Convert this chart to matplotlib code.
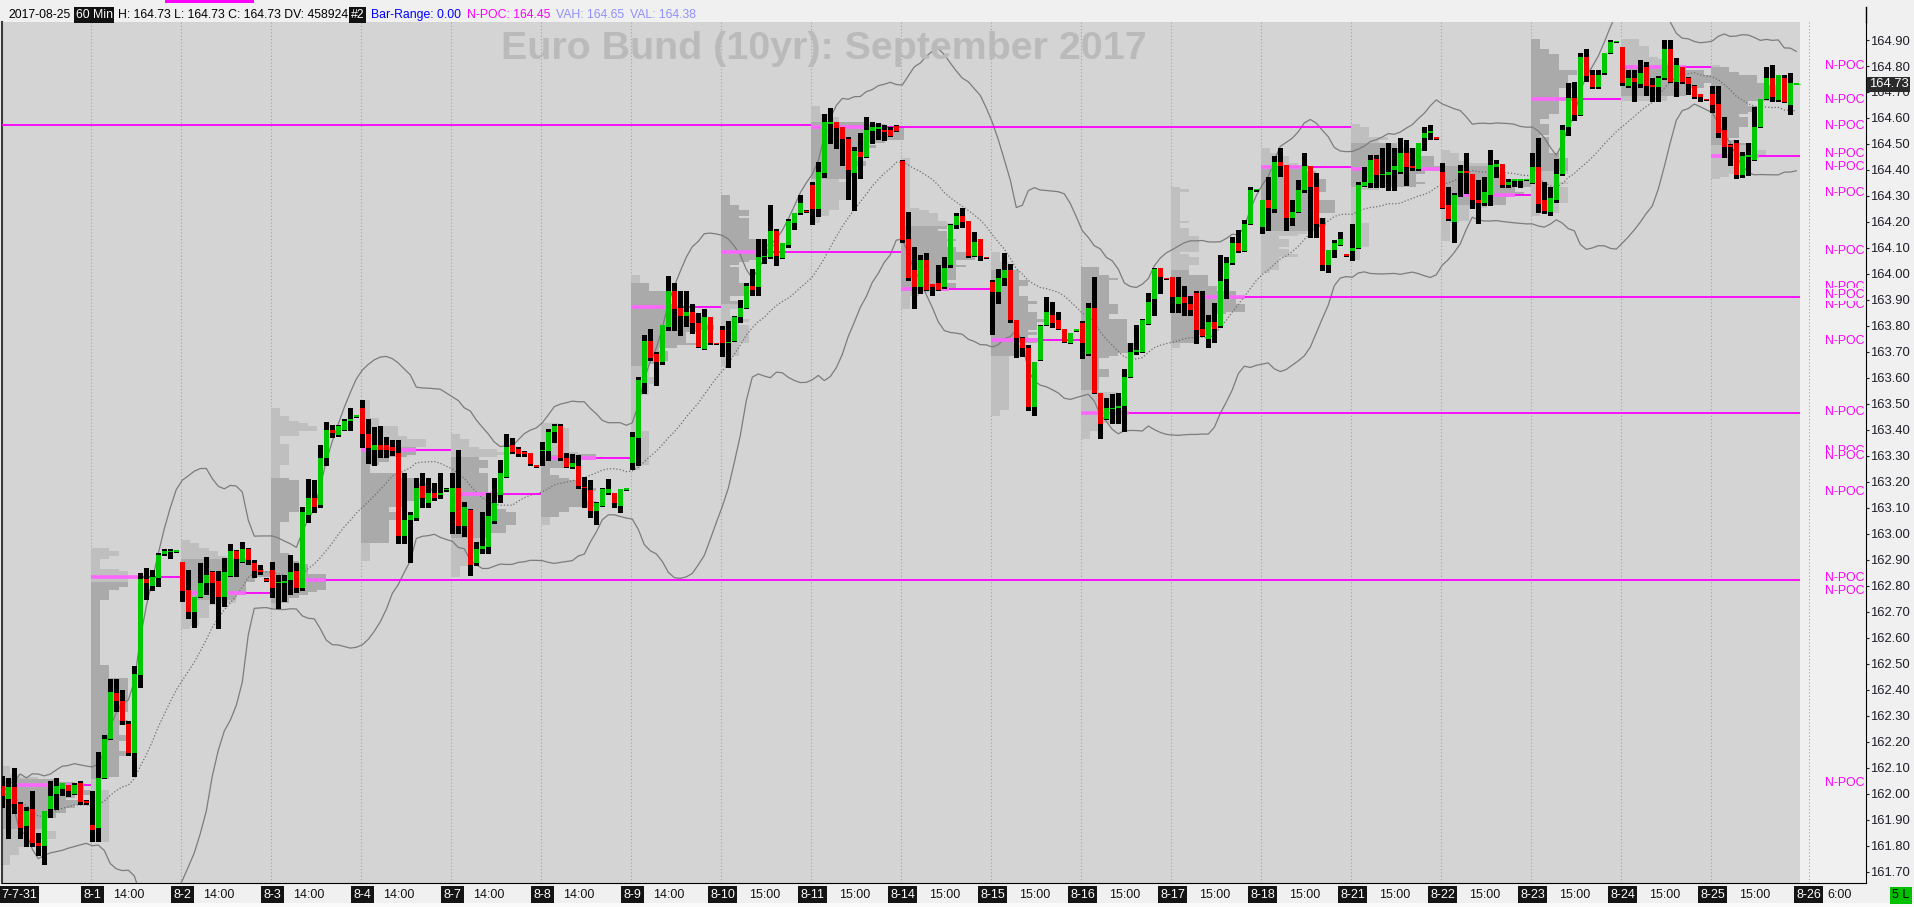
import numpy as np
import pandas as pd
import matplotlib
matplotlib.use("Agg")
import matplotlib.pyplot as plt
import matplotlib.transforms as mtransforms
from matplotlib.patches import Rectangle
from matplotlib.lines import Line2D

plt.rcParams['font.family'] = ['Liberation Sans', 'DejaVu Sans']

# ==============================================================================
# DATA  (60 min bars, 15 bars per session)
# ==============================================================================
day_labels = ['7-7-31', '8-1', '8-2', '8-3', '8-4', '8-7', '8-8', '8-9', '8-10',
              '8-11', '8-14', '8-15', '8-16', '8-17', '8-18', '8-21', '8-22',
              '8-23', '8-24', '8-25', '8-26']
time_labels = ['', '14:00', '14:00', '14:00', '14:00', '14:00', '14:00', '14:00',
               '15:00', '15:00', '15:00', '15:00', '15:00', '15:00', '15:00',
               '15:00', '15:00', '15:00', '15:00', '15:00', '6:00']

bar_open = [
    # 7-31
    162.03, 161.98, 162.025, 161.96, 161.875, 161.94, 161.81, 161.80, 161.94, 162.00, 162.02, 162.035, 162.00, 162.04, 161.97,
    # 8-1
    161.88, 161.87, 162.06, 162.21, 162.387, 162.355, 162.27, 162.155, 162.455, 162.825, 162.80, 162.83, 162.923, 162.93, 162.933,
    # 8-2
    162.893, 162.784, 162.70, 162.758, 162.81, 162.855, 162.82, 162.758, 162.838, 162.935, 162.89, 162.94, 162.889, 162.862, 162.825,
    # 8-3
    162.86, 162.81, 162.812, 162.822, 162.858, 162.79, 163.073, 163.137, 163.11, 163.29, 163.40, 163.38, 163.40, 163.436, 163.454,
    # 8-4
    163.483, 163.384, 163.323, 163.342, 163.342, 163.335, 163.312, 162.99, 163.053, 163.06, 163.184, 163.12, 163.156, 163.15, 163.17,
    # 8-7
    163.085, 163.175, 163.03, 163.09, 162.887, 162.94, 162.95, 163.05, 163.15, 163.22, 163.34, 163.325, 163.313, 163.312, 163.262,
    # 8-8
    163.318, 163.32, 163.39, 163.415, 163.29, 163.258, 163.26, 163.18, 163.17, 163.089, 163.107, 163.158, 163.158, 163.107, 163.171,
    # 8-9
    163.271, 163.367, 163.58, 163.743, 163.69, 163.662, 163.797, 163.935, 163.87, 163.838, 163.855, 163.812, 163.713, 163.833, 163.733,
    # 8-10
    163.784, 163.735, 163.74, 163.833, 163.87, 163.953, 163.95, 164.066, 164.066, 164.165, 164.063, 164.11, 164.197, 164.233, 164.242,
    # 8-11
    164.342, 164.248, 164.387, 164.58, 164.586, 164.566, 164.521, 164.39, 164.47, 164.451, 164.55, 164.56, 164.55, 164.555, 164.57,
    # 8-14
    164.434, 164.133, 164.015, 163.95, 164.053, 163.96, 163.964, 163.95, 164.034, 164.188, 164.223, 164.204, 164.069, 164.133, 164.064,
    # 8-15
    163.97, 163.932, 163.983, 164.015, 163.823, 163.752, 163.714, 163.489, 163.668, 163.803, 163.842, 163.823, 163.79, 163.733, 163.784,
    # 8-16
    163.812, 163.692, 163.87, 163.54, 163.44, 163.482, 163.483, 163.49, 163.605, 163.70, 163.70, 163.807, 163.902, 164.021, 163.983,
    # 8-17
    163.99, 163.884, 163.912, 163.884, 163.925, 163.787, 163.748, 163.816, 163.80, 163.98, 164.043, 164.118, 164.09, 164.194, 164.323,
    # 8-18
    164.182, 164.284, 164.25, 164.432, 164.42, 164.214, 164.24, 164.323, 164.415, 164.333, 164.192, 164.034, 164.092, 164.11, 164.073,
    # 8-21
    164.09, 164.101, 164.339, 164.351, 164.441, 164.38, 164.381, 164.40, 164.393, 164.464, 164.413, 164.402, 164.522, 164.541, 164.523,
    # 8-22
    164.393, 164.265, 164.201, 164.39, 164.395, 164.385, 164.285, 164.272, 164.304, 164.413, 164.423, 164.342, 164.36, 164.361, 164.362,
    # 8-23
    164.351, 164.413, 164.284, 164.24, 164.284, 164.384, 164.564, 164.676, 164.612, 164.836, 164.765, 164.72, 164.772, 164.849, 164.894,
    # 8-24
    164.872, 164.723, 164.753, 164.73, 164.797, 164.725, 164.72, 164.753, 164.864, 164.74, 164.795, 164.753, 164.724, 164.692, 164.672,
    # 8-25
    164.692, 164.654, 164.554, 164.493, 164.502, 164.381, 164.454, 164.438, 164.566, 164.672, 164.753, 164.669, 164.753, 164.65, 164.73,
]

bar_high = [
    162.07, 162.06, 162.10, 161.97, 161.95, 162.01, 161.85, 161.935, 162.05, 162.06, 162.04, 162.035, 162.04, 162.05, 161.975,
    162.01, 162.16, 162.226, 162.44, 162.44, 162.40, 162.28, 162.49, 162.85, 162.867, 162.86, 162.925, 162.94, 162.94, 162.935,
    162.893, 162.86, 162.758, 162.886, 162.91, 162.858, 162.858, 162.906, 162.96, 162.938, 162.97, 162.944, 162.90, 162.88, 162.83,
    162.893, 162.84, 162.84, 162.92, 162.889, 163.105, 163.21, 163.207, 163.342, 163.432, 163.42, 163.418, 163.44, 163.483, 163.456,
    163.515, 163.441, 163.412, 163.415, 163.374, 163.361, 163.361, 163.233, 163.085, 163.214, 163.233, 163.214, 163.194, 163.233, 163.175,
    163.235, 163.322, 163.124, 163.095, 162.97, 163.085, 163.158, 163.213, 163.284, 163.386, 163.367, 163.335, 163.32, 163.312, 163.262,
    163.355, 163.402, 163.423, 163.423, 163.31, 163.307, 163.303, 163.22, 163.207, 163.124, 163.175, 163.21, 163.158, 163.171, 163.175,
    163.39, 163.605, 163.765, 163.79, 163.70, 163.803, 163.992, 163.966, 163.935, 163.935, 163.884, 163.848, 163.864, 163.833, 163.734,
    163.80, 163.82, 163.838, 163.899, 163.966, 164.02, 164.133, 164.133, 164.265, 164.171, 164.118, 164.21, 164.233, 164.303, 164.245,
    164.355, 164.432, 164.615, 164.64, 164.586, 164.566, 164.525, 164.49, 164.541, 164.605, 164.586, 164.58, 164.573, 164.566, 164.573,
    164.44, 164.24, 164.105, 164.072, 164.08, 163.963, 164.034, 164.066, 164.194, 164.233, 164.252, 164.204, 164.162, 164.133, 164.064,
    163.975, 164.018, 164.08, 164.04, 163.823, 163.758, 163.726, 163.662, 163.803, 163.912, 163.893, 163.855, 163.79, 163.771, 163.785,
    163.82, 163.887, 163.99, 163.54, 163.521, 163.537, 163.54, 163.633, 163.733, 163.803, 163.826, 163.925, 164.021, 164.021, 163.985,
    163.99, 163.99, 163.953, 163.915, 163.935, 163.935, 163.842, 163.887, 164.072, 164.066, 164.143, 164.17, 164.207, 164.333, 164.326,
    164.284, 164.374, 164.454, 164.483, 164.42, 164.284, 164.361, 164.466, 164.415, 164.39, 164.214, 164.092, 164.13, 164.162, 164.075,
    164.192, 164.352, 164.413, 164.458, 164.458, 164.483, 164.502, 164.483, 164.522, 164.515, 164.483, 164.502, 164.564, 164.573, 164.525,
    164.425, 164.336, 164.313, 164.42, 164.464, 164.385, 164.36, 164.374, 164.477, 164.438, 164.423, 164.364, 164.364, 164.364, 164.365,
    164.466, 164.522, 164.355, 164.336, 164.441, 164.573, 164.736, 164.74, 164.849, 164.864, 164.785, 164.785, 164.849, 164.90, 164.896,
    164.872, 164.785, 164.785, 164.823, 164.817, 164.753, 164.76, 164.90, 164.90, 164.83, 164.795, 164.757, 164.727, 164.692, 164.673,
    164.723, 164.723, 164.605, 164.50, 164.515, 164.47, 164.502, 164.641, 164.673, 164.795, 164.804, 164.765, 164.765, 164.772, 164.73,
]

bar_low = [
    161.95, 161.83, 161.925, 161.83, 161.80, 161.80, 161.765, 161.73, 161.91, 161.94, 161.995, 161.99, 162.00, 161.96, 161.96,
    161.82, 161.82, 162.06, 162.21, 162.32, 162.27, 162.15, 162.07, 162.41, 162.75, 162.785, 162.80, 162.92, 162.906, 162.93,
    162.74, 162.675, 162.643, 162.758, 162.77, 162.735, 162.636, 162.722, 162.836, 162.836, 162.89, 162.884, 162.835, 162.845, 162.82,
    162.758, 162.714, 162.74, 162.77, 162.778, 162.785, 163.047, 163.085, 163.105, 163.265, 163.374, 163.375, 163.40, 163.40, 163.45,
    163.335, 163.274, 163.265, 163.294, 163.294, 163.303, 162.964, 162.964, 162.893, 163.053, 163.105, 163.105, 163.13, 163.137, 163.165,
    163.002, 163.002, 162.99, 162.84, 162.88, 162.925, 162.925, 163.04, 163.124, 163.22, 163.31, 163.30, 163.30, 163.265, 163.258,
    163.264, 163.284, 163.355, 163.284, 163.258, 163.255, 163.175, 163.104, 163.066, 163.038, 163.107, 163.155, 163.104, 163.085, 163.17,
    163.25, 163.265, 163.54, 163.67, 163.572, 163.655, 163.784, 163.784, 163.765, 163.80, 163.774, 163.72, 163.713, 163.73, 163.73,
    163.684, 163.643, 163.74, 163.816, 163.87, 163.918, 163.918, 164.043, 164.06, 164.035, 164.06, 164.105, 164.171, 164.23, 164.24,
    164.192, 164.223, 164.374, 164.502, 164.483, 164.42, 164.29, 164.246, 164.37, 164.451, 164.505, 164.52, 164.515, 164.53, 164.549,
    164.124, 163.977, 163.867, 163.925, 163.938, 163.918, 163.938, 163.944, 164.028, 164.175, 164.182, 164.066, 164.069, 164.053, 164.06,
    163.77, 163.887, 163.957, 163.816, 163.682, 163.684, 163.476, 163.457, 163.668, 163.803, 163.797, 163.79, 163.739, 163.733, 163.782,
    163.675, 163.688, 163.54, 163.367, 163.44, 163.425, 163.425, 163.396, 163.605, 163.692, 163.70, 163.807, 163.842, 163.925, 163.98,
    163.855, 163.855, 163.842, 163.842, 163.736, 163.761, 163.72, 163.739, 163.797, 163.906, 164.04, 164.085, 164.09, 164.194, 164.32,
    164.156, 164.17, 164.24, 164.377, 164.169, 164.188, 164.24, 164.316, 164.143, 164.143, 164.015, 164.008, 164.066, 164.11, 164.07,
    164.053, 164.101, 164.339, 164.336, 164.336, 164.336, 164.323, 164.323, 164.387, 164.342, 164.40, 164.40, 164.477, 164.518, 164.52,
    164.252, 164.207, 164.124, 164.30, 164.31, 164.252, 164.195, 164.265, 164.265, 164.374, 164.336, 164.336, 164.339, 164.336, 164.36,
    164.349, 164.24, 164.233, 164.227, 164.278, 164.381, 164.535, 164.592, 164.612, 164.744, 164.714, 164.714, 164.77, 164.849, 164.893,
    164.727, 164.72, 164.667, 164.72, 164.688, 164.667, 164.667, 164.749, 164.74, 164.685, 164.736, 164.692, 164.676, 164.667, 164.67,
    164.624, 164.526, 164.451, 164.419, 164.368, 164.374, 164.381, 164.438, 164.566, 164.672, 164.667, 164.667, 164.663, 164.615, 164.73,
]

bar_close = [
    161.99, 162.025, 161.96, 161.87, 161.935, 161.81, 161.80, 161.935, 161.99, 162.03, 162.04, 162.01, 162.035, 161.97, 161.965,
    161.86, 162.06, 162.21, 162.39, 162.355, 162.28, 162.155, 162.46, 162.826, 162.81, 162.835, 162.92, 162.935, 162.933, 162.933,
    162.781, 162.70, 162.758, 162.812, 162.84, 162.81, 162.758, 162.855, 162.934, 162.902, 162.942, 162.90, 162.858, 162.852, 162.82,
    162.79, 162.815, 162.817, 162.855, 162.79, 163.085, 163.137, 163.105, 163.293, 163.40, 163.387, 163.415, 163.435, 163.44, 163.454,
    163.384, 163.329, 163.342, 163.323, 163.323, 163.32, 162.99, 163.053, 163.073, 163.175, 163.137, 163.156, 163.137, 163.155, 163.172,
    163.175, 163.03, 163.104, 162.88, 162.94, 162.955, 163.07, 163.117, 163.233, 163.335, 163.316, 163.307, 163.31, 163.267, 163.259,
    163.322, 163.393, 163.415, 163.29, 163.258, 163.273, 163.184, 163.176, 163.089, 163.12, 163.171, 163.171, 163.117, 163.171, 163.173,
    163.374, 163.592, 163.743, 163.678, 163.66, 163.803, 163.935, 163.864, 163.838, 163.855, 163.81, 163.72, 163.833, 163.733, 163.731,
    163.733, 163.738, 163.835, 163.87, 163.953, 163.938, 164.066, 164.067, 164.165, 164.07, 164.118, 164.203, 164.233, 164.274, 164.24,
    164.248, 164.393, 164.586, 164.582, 164.56, 164.518, 164.40, 164.474, 164.451, 164.554, 164.566, 164.561, 164.549, 164.53, 164.55,
    164.13, 163.983, 163.95, 164.053, 163.938, 163.95, 163.94, 164.021, 164.188, 164.223, 164.201, 164.069, 164.123, 164.069, 164.062,
    163.93, 163.983, 164.015, 163.823, 163.752, 163.714, 163.489, 163.662, 163.80, 163.855, 163.812, 163.79, 163.739, 163.771, 163.784,
    163.733, 163.87, 163.54, 163.422, 163.483, 163.483, 163.492, 163.605, 163.70, 163.708, 163.823, 163.893, 164.018, 163.99, 163.981,
    163.912, 163.912, 163.887, 163.861, 163.784, 163.761, 163.816, 163.79, 163.973, 164.043, 164.118, 164.09, 164.194, 164.323, 164.325,
    164.284, 164.252, 164.432, 164.415, 164.214, 164.24, 164.323, 164.415, 164.333, 164.192, 164.034, 164.092, 164.12, 164.133, 164.072,
    164.10, 164.342, 164.355, 164.438, 164.38, 164.385, 164.394, 164.415, 164.464, 164.413, 164.41, 164.502, 164.541, 164.55, 164.521,
    164.252, 164.21, 164.304, 164.394, 164.39, 164.285, 164.272, 164.316, 164.419, 164.423, 164.342, 164.355, 164.361, 164.362, 164.363,
    164.413, 164.27, 164.243, 164.291, 164.385, 164.554, 164.676, 164.612, 164.836, 164.762, 164.72, 164.765, 164.849, 164.894, 164.895,
    164.733, 164.753, 164.74, 164.774, 164.723, 164.721, 164.753, 164.864, 164.74, 164.804, 164.74, 164.731, 164.682, 164.682, 164.671,
    164.65, 164.541, 164.49, 164.492, 164.381, 164.454, 164.455, 164.564, 164.673, 164.753, 164.682, 164.765, 164.663, 164.733, 164.73,
]

# point of control of each session and the session separator where its line stops (20 = still naked)
poc_price = [162.034, 162.833, 162.773, 162.822, 163.321, 163.152, 163.291, 163.872, 164.083, 164.566,
             163.942, 163.746, 163.464, 163.912, 164.41, 164.405, 164.304, 164.673, 164.795, 164.454]
poc_end = [1, 2, 3, 20, 5, 6, 7, 8, 10, 15, 11, 12, 20, 20, 15, 16, 17, 18, 19, 20]
prior_poc = 164.574

npoc_labels = [164.80, 164.67, 164.57, 164.46, 164.41, 164.31, 164.09, 163.95, 163.88, 163.92,
               163.74, 163.47, 163.32, 163.30, 163.16, 162.83, 162.78, 162.04]
vah_val = [164.65, 164.38]
day_volume = 458924

# ==============================================================================
# LAYOUT HELPERS (pixel geometry of the 1914x907 screen)
# ==============================================================================
W, H = 1914, 907
BPD = 15
N_DAYS = 20

def fx(x):
    return x / W

def fy(y):
    return 1 - y / H

def price_y(p):
    return 40 + (164.90 - p) * 259.9

o = np.array(bar_open)
c = np.array(bar_close)
hi = np.maximum(np.array(bar_high), np.maximum(o, c))
lo = np.minimum(np.array(bar_low), np.minimum(o, c))
k = np.arange(len(c))

sep = [d * BPD - 0.27 for d in range(N_DAYS)] + [301.07]
data_end = 299.62

fig = plt.figure(figsize=(W / 100, H / 100), dpi=100, facecolor='#f0f0f0')
ax = fig.add_axes([fx(2), 24 / H, 1864 / W, 861 / H])
ax.set_facecolor('#f0f0f0')
ax.set_xlim(-0.05, 310.62)
ax.set_ylim(161.6565, 164.9693)

# chart background and session separators
ax.axvspan(-0.05, data_end, color='#d4d4d4', lw=0, zorder=0)
for s in sep:
    ax.axvline(s, color='#a2a2a2', lw=0.8, ls=(0, (1, 2)), zorder=1)

# ---- volume (TPO) profile per session --------------------------------------
PROF = 1.55
poc_width = []
for d in range(N_DAYS):
    sl = slice(d * BPD, d * BPD + BPD)
    grid = np.round(np.arange(np.round(lo[sl].min(), 2), np.round(hi[sl].max(), 2) + 0.005, 0.01), 2)
    cnt = ((lo[sl][None, :] <= grid[:, None] + 1e-9) & (hi[sl][None, :] >= grid[:, None] - 1e-9)).sum(1)
    i_poc = int(np.argmax(cnt))
    a, b = i_poc, i_poc
    acc, total = cnt[i_poc], cnt.sum()
    while acc < 0.7 * total:
        up = cnt[b + 1] if b + 1 < len(cnt) else -1
        dn = cnt[a - 1] if a - 1 >= 0 else -1
        if up >= dn:
            b += 1
            acc += up
        else:
            a -= 1
            acc += dn
    in_va = (np.arange(len(cnt)) >= a) & (np.arange(len(cnt)) <= b)
    cols = np.where(in_va, '#aaaaaa', '#bfbfbf')
    ax.barh(grid, cnt * PROF, left=sep[d], height=0.0105, color=cols, lw=0, zorder=2)
    j = int(np.argmin(np.abs(grid - poc_price[d])))
    poc_width.append(max(cnt[j] * PROF, 8))

# ---- Bollinger bands ----------------------------------------------------------
cs = pd.Series(c)
mid = cs.rolling(20, min_periods=1).mean()
sd = cs.rolling(20, min_periods=1).std(ddof=0)
ax.plot(k, mid + 2 * sd, color='#7c7c7c', lw=0.9, zorder=3)
ax.plot(k, mid - 2 * sd, color='#7c7c7c', lw=0.9, zorder=3)
ax.plot(k, mid, color='#6e6e6e', lw=0.9, ls=(0, (1, 1.6)), zorder=3)

# ---- naked points of control -------------------------------------------------
ax.hlines(prior_poc, -0.05, sep[9], color='#ff00ff', lw=1.3, zorder=4)
for d in range(N_DAYS):
    end = min(sep[poc_end[d]], data_end)
    ax.hlines(poc_price[d], sep[d], end, color='#ff00ff', lw=1.3, zorder=4)
    ax.hlines(poc_price[d], sep[d], sep[d] + poc_width[d], color='#ff66ff', lw=2.6, zorder=4)

# ---- candles -----------------------------------------------------------------
up_bar = c >= o
col = np.where(up_bar, '#00c800', '#f20000')
ax.vlines(k, lo, hi, color='black', lw=2.3, zorder=5, antialiased=False)
body = np.maximum(np.abs(c - o), 0.006)
ax.bar(k, body, bottom=(o + c) / 2 - body / 2, width=0.84, color=col, lw=0, zorder=6,
       antialiased=False)
ax.hlines(c[-1], k[-1] + 0.4, data_end, color='#00c800', lw=1, zorder=7)

# ---- axes --------------------------------------------------------------------
ax.set_xticks([])
ax.yaxis.tick_right()
yt = np.round(np.arange(161.7, 164.91, 0.1), 2)
ax.set_yticks(yt)
ax.set_yticklabels([f'{v:.2f}' for v in yt], fontsize=9.4, color='#1e1e28')
ax.tick_params(axis='y', direction='out', length=2.2, width=0.8, pad=1.0, colors='#1e1e28')
ax.spines['top'].set_visible(False)
ax.spines['left'].set_color('#3a3a3a')
ax.spines['left'].set_linewidth(1.5)
ax.spines['right'].set_color('black')
ax.spines['bottom'].set_color('black')
fig.add_artist(Line2D([fx(1866), fx(1866)], [fy(7), fy(22)], color='black', lw=1))

# x labels: session dates in black boxes and an intraday time
trans = mtransforms.blended_transform_factory(ax.transData, fig.transFigure)
for d, lab in enumerate(day_labels):
    if d == 0:
        fig.text(fx(1), fy(894.5), lab, ha='left', va='center', color='white', fontsize=9,
                 bbox=dict(boxstyle='square,pad=0.18', fc='#141414', ec='none'))
    else:
        xk = sep[d] + 0.3 if d < N_DAYS else sep[d]
        ax.text(xk, fy(894.5), lab, transform=trans, ha='center', va='center', color='white',
                fontsize=9, bbox=dict(boxstyle='square,pad=0.18', fc='#141414', ec='none'), clip_on=False)
    if time_labels[d]:
        off = 6 if time_labels[d] == '14:00' else 7
        xk = d * BPD + off if d < N_DAYS else 306.25
        ax.text(xk, fy(894.5), time_labels[d], transform=trans, ha='center', va='center',
                color='#101010', fontsize=9, clip_on=False)

# N-POC markers on the price scale
for p in npoc_labels:
    fig.text(fx(1865), fy(price_y(p)), 'N-POC', ha='right', va='center', color='#ff00ff', fontsize=8.8,
             bbox=dict(boxstyle='square,pad=0.02', fc='#f0f0f0', ec='none'))

# last price tag
fig.text(fx(1888.5), fy(price_y(c[-1])), f'{c[-1]:.2f}', ha='center', va='center', color='white',
         fontsize=9.4, bbox=dict(boxstyle='square,pad=0.12', fc='#2b2b2b', ec='none'), zorder=10)

# ---- header line and title ---------------------------------------------------
hy = fy(15)
fs = 8.8
fig.text(fx(8), hy, '2017-08-25', ha='left', va='center', fontsize=fs, color='black')
fig.text(fx(75.5), hy, '60 Min', ha='left', va='center', fontsize=fs, color='white',
         bbox=dict(boxstyle='square,pad=0.15', fc='#111111', ec='none'))
fig.text(fx(118), hy, f'H: {hi[-1]:.2f} L: {lo[-1]:.2f} C: {c[-1]:.2f} DV: {day_volume}',
         ha='left', va='center', fontsize=fs, color='black')
fig.text(fx(350.5), hy, '#2', ha='left', va='center', fontsize=fs, color='white',
         bbox=dict(boxstyle='square,pad=0.15', fc='#111111', ec='none'))
fig.text(fx(371), hy, 'Bar-Range: 0.00', ha='left', va='center', fontsize=fs, color='#0000ff')
fig.text(fx(467), hy, f'N-POC: {poc_price[-1]:.2f}', ha='left', va='center', fontsize=fs, color='#ff00ff')
fig.text(fx(556), hy, f'VAH: {vah_val[0]:.2f}', ha='left', va='center', fontsize=fs, color='#9090ff')
fig.text(fx(629.5), hy, f'VAL: {vah_val[1]:.2f}', ha='left', va='center', fontsize=fs, color='#9090ff')
fig.add_artist(Rectangle((fx(165), fy(3)), (254 - 165) / W, 3 / H, transform=fig.transFigure,
                         fc='#ff00ff', ec='none'))

fig.text(fx(823.5), fy(59), 'Euro Bund (10yr): September 2017', ha='center', va='baseline',
         fontsize=28.4, fontweight='bold', color='#bababa')

# corner status box
fig.text(fx(1901), fy(895), '5 L', ha='center', va='center', fontsize=9, color='black',
         bbox=dict(boxstyle='square,pad=0.2', fc='#00c000', ec='none'))
fig.add_artist(Rectangle((0, 0), 1, 4 / H, transform=fig.transFigure, fc='#fafafa', ec='none'))

fig.savefig('out.png', dpi=100, facecolor=fig.get_facecolor())
